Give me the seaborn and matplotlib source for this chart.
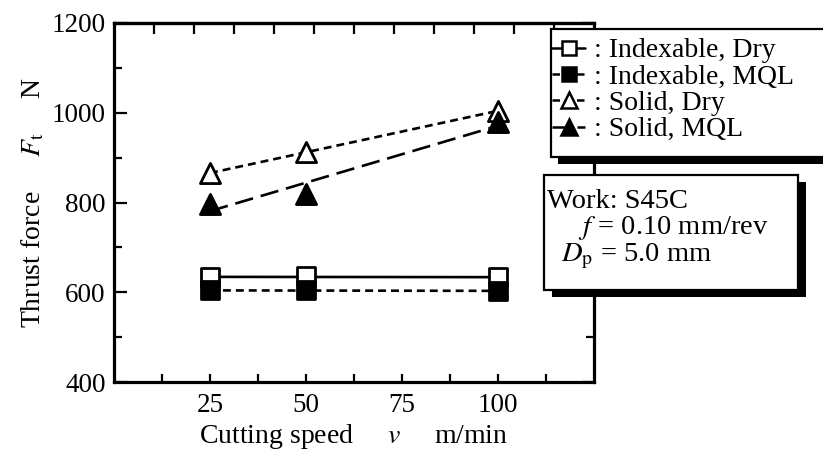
import numpy as np
import pandas as pd
import matplotlib
matplotlib.use("Agg")
import matplotlib.pyplot as plt
from matplotlib.lines import Line2D
from matplotlib.patches import Rectangle
import seaborn as sns

# ---------------- data ----------------
speeds = [25, 50, 100]
indexable_dry = [633, 636, 633]
indexable_mql = [604, 604, 603]
solid_dry = [865, 913, 1004]
solid_mql = [797, 820, 979]
series_labels = [": Indexable, Dry", ": Indexable, MQL", ": Solid, Dry", ": Solid, MQL"]
x_ticks = [25, 50, 75, 100]
y_ticks = [400, 600, 800, 1000, 1200]

sns.set_theme(style="white")
plt.rcParams["font.family"] = ["Liberation Serif", "DejaVu Serif"]
plt.rcParams["mathtext.fontset"] = "stix"

W, H = 823, 457
fig = plt.figure(figsize=(W / 100, H / 100), dpi=100)
fig.patch.set_facecolor("white")

def fx(px):
    return px / W

def fy(py):
    return 1 - py / H

L, R, T, B = 114, 594, 23, 382
ax = fig.add_axes([fx(L), fy(B), fx(R - L), (B - T) / H])
ax.set_facecolor("white")

styles = [
    dict(data=indexable_dry, ls="-", marker="s", face="white", ms=13),
    dict(data=indexable_mql, ls=(0, (3.0, 1.9)), marker="s", face="black", ms=13),
    dict(data=solid_dry, ls=(0, (3.0, 1.9)), marker="^", face="white", ms=14.5),
    dict(data=solid_mql, ls=(0, (7.0, 3.0)), marker="^", face="black", ms=14.5),
]

z = 3
for st in styles:
    df = pd.DataFrame({"v": speeds, "F": st["data"]})
    sns.regplot(data=df, x="v", y="F", ax=ax, scatter=False, ci=None, truncate=True,
                line_kws=dict(color="black", lw=1.9, ls=st["ls"], zorder=z))
    sns.scatterplot(data=df, x="v", y="F", ax=ax, marker=st["marker"], s=st["ms"] ** 2,
                    color=st["face"], edgecolor="black", linewidth=2.0, zorder=z + 1,
                    legend=False)
    z += 2

ax.set_xlim(0, 125)
ax.set_ylim(400, 1200)
ax.set_xticks(x_ticks)
ax.set_xticks([12.5, 37.5, 62.5, 87.5, 112.5], minor=True)
ax.set_yticks(y_ticks)
ax.set_yticks([500, 700, 900, 1100], minor=True)
ax.set_xticklabels([str(t) for t in x_ticks])
ax.set_yticklabels([str(t) for t in y_ticks])

for sp in ax.spines.values():
    sp.set_visible(True)
    sp.set_linewidth(2.3)
    sp.set_color("black")

ax.tick_params(axis="both", which="both", direction="in", color="black", width=1.6,
               labelsize=19.5, labelcolor="black")
ax.tick_params(axis="x", which="both", length=6, pad=8, bottom=True, top=False)
ax.tick_params(axis="y", which="major", length=9, pad=6, left=True, right=True)
ax.tick_params(axis="y", which="minor", length=6, left=True, right=True)

# top axis ticks (12 equal divisions in the original)
sec = ax.secondary_xaxis("top")
sec.set_xticks([k * 125 / 12 for k in range(1, 12)])
sec.tick_params(axis="x", direction="in", length=8, width=1.6, labeltop=False, color="black")
sec.spines["top"].set_linewidth(2.3)

ax.set_xlabel(r"Cutting speed     $v$     m/min", fontsize=20, color="black", labelpad=3)
ax.set_ylabel(r"Thrust force     $F_{\mathrm{t}}$     N", fontsize=20, color="black", labelpad=4)

# ---------------- legend with box + shadow ----------------
handles = []
for st in styles:
    handles.append(Line2D([], [], color="black", lw=1.8, ls=st["ls"], marker=st["marker"],
                          ms=10 if st["marker"] == "s" else 11, mfc=st["face"],
                          mec="black", mew=1.8))
leg = fig.legend(handles, series_labels, loc="upper left",
                 bbox_to_anchor=(fx(552), fy(38)), frameon=False,
                 borderpad=0, borderaxespad=0, handlelength=1.2, handletextpad=0.3,
                 labelspacing=0.03, prop={"size": 20})
leg.set_zorder(10)
for t in leg.get_texts():
    t.set_color("black")

def shadow_box(x0, y0, x1, y1, off=(7, 7)):
    sh = Rectangle((fx(x0 + off[0]), fy(y1 + off[1])), fx(x1 - x0), (y1 - y0) / H,
                   transform=fig.transFigure, facecolor="black", edgecolor="none", zorder=7)
    bx = Rectangle((fx(x0), fy(y1)), fx(x1 - x0), (y1 - y0) / H,
                   transform=fig.transFigure, facecolor="white", edgecolor="black",
                   lw=1.6, zorder=8)
    fig.add_artist(sh)
    fig.add_artist(bx)

shadow_box(551, 29, 835, 157)
shadow_box(544, 175, 798, 290, off=(8, 7))

box_text = "Work: S45C\n     $f$ = 0.10 mm/rev\n  $D_{\\mathrm{p}}$ = 5.0 mm"
fig.text(fx(547), fy(189), box_text, fontsize=20.5, color="black", zorder=11,
         va="top", ha="left", linespacing=0.98)

fig.savefig("out.png", dpi=100, facecolor="white")
